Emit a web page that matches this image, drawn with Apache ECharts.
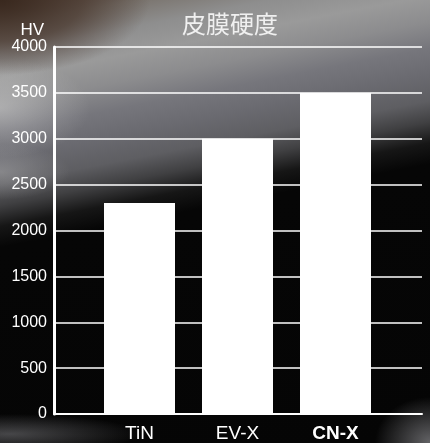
<!DOCTYPE html>
<html>
<head>
<meta charset="utf-8">
<script src="https://cdn.jsdelivr.net/npm/echarts@6/dist/echarts.min.js"></script>
<style>
html,body{margin:0;padding:0;width:430px;height:443px;overflow:hidden;background:#050505;}
#bg{position:absolute;left:0;top:0;width:430px;height:443px;
background:
 radial-gradient(ellipse 150px 75px at 0px 0px, rgba(55,38,28,0.95) 0%, rgba(70,52,42,0.7) 55%, rgba(80,64,56,0) 100%),
 radial-gradient(ellipse 90px 50px at 0px 108px, rgba(225,225,225,0.4), rgba(225,225,225,0) 100%),
 radial-gradient(ellipse 70px 28px at 0px 172px, rgba(200,200,200,0.35), rgba(200,200,200,0) 100%),
 radial-gradient(ellipse 130px 20px at 10px 434px, rgba(150,150,155,0.45), rgba(150,150,155,0) 100%),
 radial-gradient(ellipse 55px 45px at 430px 442px, rgba(175,175,180,0.55), rgba(175,175,180,0) 100%),
 linear-gradient(169deg, #5a4a40 0%, #7a746e 5%, #8e8e8e 10%, #9a9a9a 15%, #8c8c8e 20%, #76767c 25%, #6a6a70 30%, #5e5e62 35%, #404042 39%, #161616 43%, #060606 47%, #050505 100%);
}
#chart{position:absolute;left:0;top:0;width:430px;height:443px;}
</style>
</head>
<body>
<div id="bg"></div>
<div id="chart"></div>
<script>
const categories = ['TiN', 'EV-X', 'CN-X'];
const hardness = [2300, 3000, 3500];
const yTicks = [0, 500, 1000, 1500, 2000, 2500, 3000, 3500, 4000];
const titleText = '皮膜硬度';
const unitText = 'HV';

const chart = echarts.init(document.getElementById('chart'), null, {renderer: 'canvas'});
const yMin = yTicks[0], yMax = yTicks[yTicks.length - 1], yStep = yTicks[1] - yTicks[0];
const font = 'Liberation Sans';
chart.setOption({
  backgroundColor: 'transparent',
  animation: false,
  title: {
    text: titleText, left: 177, top: 7,
    textStyle: {color: '#f0f0f0', fontSize: 24, fontWeight: 'normal', fontFamily: 'Noto Sans CJK JP'}
  },
  grid: [
    {left: 54, right: 8, top: 47, bottom: 29, containLabel: false, outerBoundsMode: 'none'},
    {left: 90.5, width: 294, top: 47, bottom: 29, containLabel: false, outerBoundsMode: 'none'}
  ],
  xAxis: [
    {gridIndex: 0, type: 'value', min: 0, max: 1,
     axisLine: {show: true, lineStyle: {color: '#ffffff', width: 2}},
     axisTick: {show: false}, axisLabel: {show: false}, splitLine: {show: false}},
    {gridIndex: 1, type: 'category', data: categories,
     axisLine: {show: false}, axisTick: {show: false},
     axisLabel: {
       margin: 10, fontSize: 19, color: '#ffffff', fontFamily: font,
       formatter: function (v) { return v === 'CN-X' ? '{b|' + v + '}' : v; },
       rich: {b: {fontWeight: 'bold', fontSize: 19, color: '#ffffff', fontFamily: font}}
     }}
  ],
  yAxis: [
    {gridIndex: 0, type: 'value', min: yMin, max: yMax, interval: yStep,
     name: unitText, nameLocation: 'end', nameGap: 6,
     nameTextStyle: {color: '#ffffff', fontSize: 17, fontFamily: font, align: 'right', padding: [0, 10, 0, 0]},
     axisLine: {show: true, lineStyle: {color: '#ffffff', width: 3}},
     axisTick: {show: false},
     axisLabel: {margin: 7, fontSize: 16, color: '#ffffff', fontFamily: font,
                 formatter: function (v) { return String(v); }},
     splitLine: {show: true, lineStyle: {color: '#ffffff', width: 1.5}}},
    {gridIndex: 1, type: 'value', min: yMin, max: yMax, show: false, splitLine: {show: false}}
  ],
  series: [{
    type: 'bar', xAxisIndex: 1, yAxisIndex: 1, data: hardness,
    barWidth: 71, itemStyle: {color: '#ffffff'}
  }]
});
</script>
</body>
</html>
